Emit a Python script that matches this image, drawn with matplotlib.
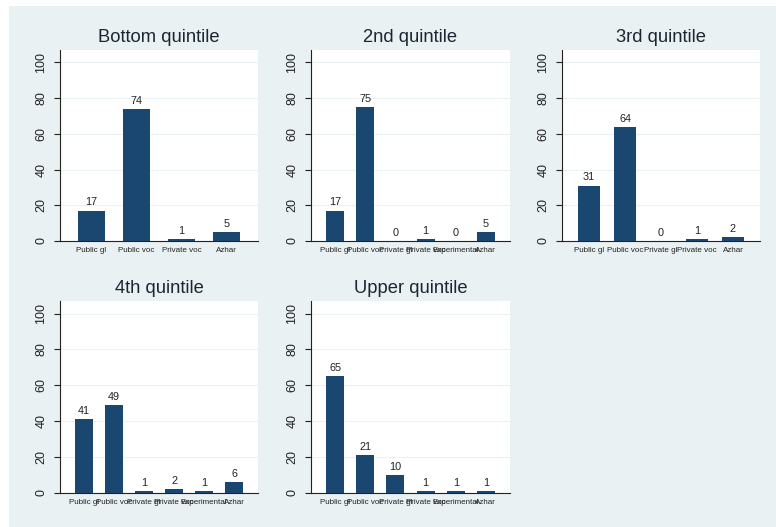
import matplotlib
matplotlib.use("Agg")
import matplotlib.pyplot as plt
from matplotlib.patches import Rectangle

plt.rcParams['font.family'] = ['Liberation Sans', 'DejaVu Sans']

titles = ["Bottom quintile", "2nd quintile", "3rd quintile", "4th quintile", "Upper quintile"]
cats_bottom = ["Public gl", "Public voc", "Private voc", "Azhar"]
cats_2nd = ["Public gl", "Public voc", "Private gl", "Private voc", "Experimental", "Azhar"]
cats_3rd = ["Public gl", "Public voc", "Private gl", "Private voc", "Azhar"]
cats_4th = ["Public gl", "Public voc", "Private gl", "Private voc", "Experimental", "Azhar"]
cats_upper = ["Public gl", "Public voc", "Private gl", "Private voc", "Experimental", "Azhar"]
vals_bottom = [17, 74, 1, 5]
vals_2nd = [17, 75, 0, 1, 0, 5]
vals_3rd = [31, 64, 0, 1, 2]
vals_4th = [41, 49, 1, 2, 1, 6]
vals_upper = [65, 21, 10, 1, 1, 1]
yticks = [0, 20, 40, 60, 80, 100]

panels = [(cats_bottom, vals_bottom), (cats_2nd, vals_2nd), (cats_3rd, vals_3rd),
          (cats_4th, vals_4th), (cats_upper, vals_upper)]

W, H = 776, 527
fig = plt.figure(figsize=(W / 100, H / 100), dpi=100)
fig.patch.set_facecolor("white")
bg = "#eaf1f3"
fig.add_artist(Rectangle((9 / W, 0), 1 - 9 / W, 1 - 6 / H, transform=fig.transFigure,
                         facecolor=bg, edgecolor="none", zorder=0))

cols = [(60, 258), (311, 510), (562, 760)]
rows = [(50, 241), (301, 493)]
bar_color = "#1a476f"
txt = "#1c2633"
lab = "#222222"

for i, (cats, vals) in enumerate(panels):
    r, c = divmod(i, 3)
    (x0, x1), (y0, y1) = cols[c], rows[r]
    ax = fig.add_axes([x0 / W, (H - y1) / H, (x1 - x0) / W, (y1 - y0) / H])
    ax.set_facecolor("white")
    n = len(cats)
    pos = list(range(n))
    m = (0.1 * n + 1) / 2
    ax.bar(pos, vals, width=0.6, color=bar_color, zorder=3)
    for p, v in zip(pos, vals):
        ax.text(p, v + 1.8, f"{v}", ha="center", va="bottom", fontsize=7.8, color=lab, zorder=4)
    ax.set_xlim(-m, n - 1 + m)
    ax.set_ylim(0, 107)
    ax.set_yticks(yticks)
    ax.set_yticklabels([str(t) for t in yticks], rotation=90, va="center", fontsize=9, color=lab)
    ax.set_xticks(pos)
    ax.set_xticklabels(cats, fontsize=5.8, color=lab)
    ax.tick_params(axis="x", length=0, pad=4)
    ax.tick_params(axis="y", length=4, width=0.8, pad=5, color=lab)
    ax.grid(axis="y", color="#eaf1f3", linewidth=0.8, zorder=0)
    for s in ["top", "right"]:
        ax.spines[s].set_visible(False)
    for s in ["left", "bottom"]:
        ax.spines[s].set_color(lab)
        ax.spines[s].set_linewidth(0.8)
    ax.set_title(titles[i], fontsize=13.2, color=txt, pad=6)

fig.savefig("out.png", dpi=100, facecolor=fig.get_facecolor())
